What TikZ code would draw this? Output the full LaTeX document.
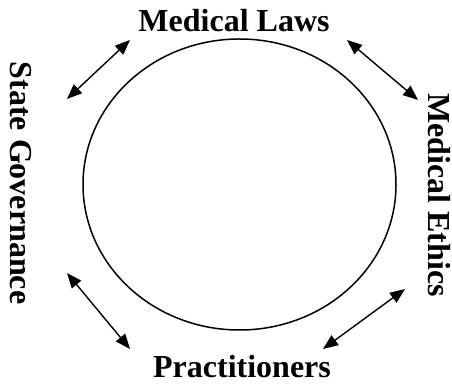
\documentclass[tikz,border=0pt]{standalone}
\usepackage{fontspec}
\setmainfont{Liberation Serif}
\usetikzlibrary{arrows.meta,shapes.geometric}
\tikzset{
  lbl/.style={inner sep=0pt, font=\fontsize{32}{38}\selectfont\bfseries},
  biarrow/.style={line width=1.4pt, {Triangle[length=15pt,width=12pt]}-{Triangle[length=15pt,width=12pt]}},
  ring/.style={line width=1.5pt}
}
\begin{document}
\begin{tikzpicture}[x=1pt,y=1pt]
\useasboundingbox (0,0) rectangle (452,385);
\node[ring, draw, ellipse, minimum width=313pt, minimum height=291pt, inner sep=0pt] (c) at (239.5,200.5) {};
\node[lbl, anchor=base] (laws) at (234,353) {Medical Laws};
\node[lbl, anchor=base] (prac) at (242,7) {Practitioners};
\node[lbl, rotate=-90] (state) at (21,202) {State Governance};
\node[lbl, rotate=-90] (ethics) at (439,190) {Medical Ethics};
\coordinate (a1s) at (130,345); \coordinate (a1e) at (67,286);
\coordinate (a2s) at (347,345); \coordinate (a2e) at (418,285);
\coordinate (a3s) at (67,112);  \coordinate (a3e) at (130,36);
\coordinate (a4s) at (405,96);  \coordinate (a4e) at (323,36);
\draw[biarrow] (a1s) -- (a1e);
\draw[biarrow] (a2s) -- (a2e);
\draw[biarrow] (a3s) -- (a3e);
\draw[biarrow] (a4s) -- (a4e);
\end{tikzpicture}
\end{document}
